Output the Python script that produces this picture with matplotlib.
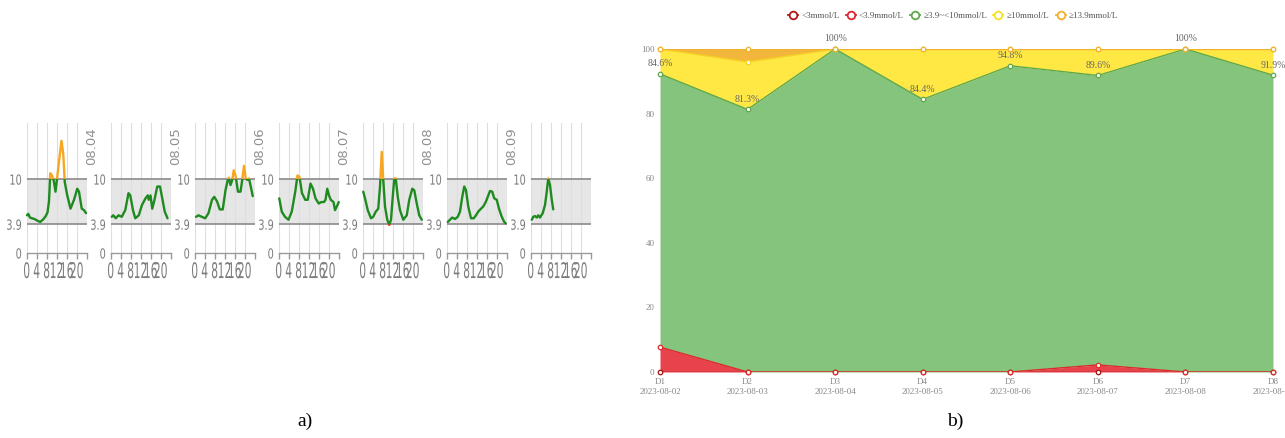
import numpy as np
import matplotlib
matplotlib.use('Agg')
import matplotlib.pyplot as plt
from matplotlib.patches import Rectangle
from matplotlib.lines import Line2D
from matplotlib.patheffects import AbstractPathEffect
from matplotlib.transforms import Affine2D

# ---------------- data: a) daily glucose curves (hour, mmol/L) ----------------
day_labels = ['08.03', '08.04', '08.05', '08.06', '08.07', '08.08', '08.09']

d1_h = [0, 0.5, 1.2, 2, 3, 4, 5.3, 6.6, 7.5, 8.2, 8.8, 9.3, 10, 10.7, 11.4, 12, 12.7, 13.8, 14.5, 15.1, 16.1, 17.4, 18.8, 20.1, 20.8, 21.9, 22.8, 23.6]
d1_v = [5.1, 5.3, 4.8, 4.7, 4.6, 4.4, 4.2, 4.6, 5.0, 5.5, 7.0, 10.8, 10.5, 9.8, 8.3, 10.0, 12.1, 15.2, 13.4, 9.6, 7.8, 6.0, 7.2, 8.7, 8.3, 6.0, 5.8, 5.4]

d2_h = [0.3, 0.9, 1.9, 3.0, 4.3, 5.7, 7.0, 7.7, 8.8, 9.7, 11.1, 12.4, 13.8, 14.7, 15.1, 15.8, 16.5, 17.4, 18.5, 19.6, 20.5, 21.5, 22.6]
d2_v = [4.9, 5.1, 4.7, 5.1, 4.9, 5.8, 8.1, 7.8, 5.8, 4.7, 5.1, 6.5, 7.4, 7.8, 7.2, 7.8, 6.0, 7.2, 9.0, 9.0, 7.4, 5.6, 4.7]

d3_h = [0.4, 1.4, 2.7, 4.1, 5.4, 6.8, 7.7, 8.8, 9.9, 11.1, 12.2, 13.1, 13.5, 14.2, 14.9, 15.5, 16.2, 17.2, 18.2, 18.9, 19.6, 20.3, 20.9, 21.6, 22.3, 23.1]
d3_v = [4.9, 5.1, 4.9, 4.7, 5.4, 7.2, 7.6, 7.0, 5.9, 5.9, 8.5, 9.9, 10.2, 9.2, 9.9, 11.2, 10.5, 8.3, 8.3, 9.9, 11.8, 10.1, 9.9, 10.1, 9.0, 7.7]

d4_h = [0.1, 1.1, 2.4, 3.8, 5.1, 6.5, 7.4, 8.2, 9.2, 10.5, 11.5, 12.6, 13.6, 14.6, 15.9, 16.9, 18.0, 18.6, 19.3, 20.0, 20.7, 21.8, 22.4, 23.4, 23.9]
d4_v = [7.4, 5.6, 4.9, 4.5, 5.6, 8.3, 10.5, 10.3, 8.1, 7.2, 7.2, 9.4, 8.7, 7.4, 6.7, 6.9, 6.9, 7.2, 8.7, 7.8, 7.2, 6.9, 5.8, 6.5, 6.9]

d5_h = [0.1, 0.8, 1.9, 3.2, 4.1, 5.1, 6.1, 6.8, 7.5, 8.1, 8.8, 9.7, 10.5, 11.2, 11.9, 12.5, 13.1, 13.9, 14.8, 16.1, 17.5, 18.5, 19.7, 20.5, 21.5, 22.5, 23.5]
d5_v = [8.3, 7.4, 5.8, 4.7, 4.9, 5.6, 6.0, 9.0, 13.7, 9.9, 6.3, 4.5, 3.8, 4.5, 7.6, 10.1, 10.1, 7.6, 5.8, 4.5, 5.1, 7.2, 8.7, 8.5, 6.7, 5.1, 4.5]

d6_h = [0.3, 1.2, 2.1, 3.2, 4.3, 5.2, 6.1, 6.9, 7.6, 8.5, 9.6, 10.7, 11.6, 12.5, 13.6, 14.5, 15.5, 16.3, 17.2, 18.1, 18.9, 19.9, 20.8, 21.9, 22.9, 23.5]
d6_v = [4.2, 4.5, 4.8, 4.6, 4.9, 5.6, 7.6, 9.0, 8.5, 6.3, 4.7, 4.7, 5.1, 5.6, 6.0, 6.3, 6.9, 7.6, 8.4, 8.3, 7.4, 7.2, 6.0, 4.9, 4.2, 4.0]

d7_h = [0.3, 0.9, 1.6, 2.3, 2.9, 3.6, 4.7, 5.6, 6.3, 6.9, 7.6, 8.3, 8.9]
d7_v = [4.5, 4.9, 5.0, 4.8, 5.1, 4.8, 5.4, 6.5, 8.3, 10.1, 9.2, 7.2, 5.9]

hours_x_ticks = [0, 4, 8, 12, 16, 20, 24]
hours_x_labels = ['0', '4', '8', '12', '16', '20', '']
y_ticks = [0, 3.9, 10]
y_labels = ['0', '3.9', '10']

# ---------------- data: b) time-in-range stacked percentages ----------------
days = ['D1', 'D2', 'D3', 'D4', 'D5', 'D6', 'D7', 'D8']
dates = ['2023-08-02', '2023-08-03', '2023-08-04', '2023-08-05',
         '2023-08-06', '2023-08-07', '2023-08-08', '2023-08-09']
pct_lt3 = [0, 0, 0, 0, 0, 0, 0, 0]
pct_lt39 = [7.7, 0, 0, 0, 0, 2.2, 0, 0]
pct_in = [84.6, 81.3, 100, 84.4, 94.8, 89.6, 100, 91.9]
pct_ge10 = [7.7, 14.7, 0, 15.6, 5.2, 8.2, 0, 8.1]
pct_ge139 = [0, 4.0, 0, 0, 0, 0, 0, 0]
in_range_labels = ['84.6%', '81.3%', '100%', '84.4%', '94.8%', '89.6%', '100%', '91.9%']
series_names = ['<3mmol/L', '<3.9mmol/L', '≥3.9~<10mmol/L', '≥10mmol/L', '≥13.9mmol/L']


class HScale(AbstractPathEffect):
    """Draw text condensed horizontally (narrow look of the original)."""

    def __init__(self, sx, anchor='center'):
        super().__init__()
        self.sx = sx
        self.anchor = anchor

    def draw_path(self, renderer, gc, tpath, affine, rgbFace=None):
        v = tpath.vertices
        if len(v):
            xmin, xmax = v[:, 0].min(), v[:, 0].max()
        else:
            xmin = xmax = 0.0
        cx = {'center': (xmin + xmax) / 2, 'right': xmax, 'left': xmin}[self.anchor]
        t = Affine2D().translate(-cx, 0).scale(self.sx, 1).translate(cx, 0) + affine
        renderer.draw_path(gc, tpath, t, rgbFace)


# ---------------- figure ----------------
W, H = 1285, 438
fig = plt.figure(figsize=(W / 100, H / 100), dpi=100)

GREEN = '#1f8a1f'
ORANGE = '#f5a623'
RED = '#e0302a'
TICK_C = '#7c7c7c'

curves = [(d1_h, d1_v), (d2_h, d2_v), (d3_h, d3_v), (d4_h, d4_v),
          (d5_h, d5_v), (d6_h, d6_v), (d7_h, d7_v)]

for k, (hh, vv) in enumerate(curves):
    x0 = 27 + 84 * k
    ax = fig.add_axes([x0 / W, 1 - 253 / H, 60 / W, 130 / H])
    ax.set_xlim(0, 24)
    ax.set_ylim(0, 17.6)
    ax.axhspan(3.9, 10, color='#e6e6e6', zorder=0, lw=0)
    for gx in hours_x_ticks:
        ax.axvline(gx, color='#dedede', lw=0.8, zorder=0.5)
    ax.axhline(3.9, color='#8a8a8a', lw=1.2, zorder=1)
    ax.axhline(10, color='#8a8a8a', lw=1.2, zorder=1)
    for lo, hi, c in [(-5, 3.9, RED), (3.9, 10, GREEN), (10, 40, ORANGE)]:
        ln, = ax.plot(hh, vv, color=c, lw=1.7, zorder=3,
                      solid_capstyle='round', solid_joinstyle='round')
        ln.set_clip_path(Rectangle((-5, lo), 40, hi - lo, transform=ax.transData))
    for s in ['top', 'right', 'left']:
        ax.spines[s].set_visible(False)
    ax.spines['bottom'].set_color('#9a9a9a')
    ax.spines['bottom'].set_linewidth(1.0)
    ax.set_xticks(hours_x_ticks)
    ax.set_xticklabels(hours_x_labels)
    ax.set_yticks(y_ticks)
    ax.set_yticklabels(y_labels)
    ax.tick_params(axis='x', direction='out', length=4, width=1, color='#9a9a9a',
                   pad=2.5, labelsize=15.5, labelcolor=TICK_C)
    ax.tick_params(axis='y', length=0, pad=3.6, labelsize=10, labelcolor=TICK_C)
    for lab in ax.get_xticklabels():
        lab.set_path_effects([HScale(0.5, 'center')])
    for lab in ax.get_yticklabels():
        lab.set_path_effects([HScale(0.7, 'right')])
    if k > 0:
        ax.text(-0.33, 0.97, day_labels[k], transform=ax.transAxes, rotation=90,
                ha='center', va='top', fontsize=9.5, color='#909090')

fig.text(305 / W, 1 - 421 / H, 'a)', ha='center', va='center',
         fontsize=14, family=['Liberation Serif', 'DejaVu Serif'])
fig.text(955 / W, 1 - 421 / H, 'b)', ha='center', va='center',
         fontsize=14, family=['Liberation Serif', 'DejaVu Serif'])

# ---------------- b) stacked area ----------------
serif = ['Liberation Serif', 'DejaVu Serif']
axb = fig.add_axes([660 / W, 1 - 372 / H, 613 / W, 323 / H])
x = np.arange(len(days))
layers = [np.array(pct_lt3), np.array(pct_lt39), np.array(pct_in),
          np.array(pct_ge10), np.array(pct_ge139)]
fills = ['#b01818', '#e8434c', '#85c47c', '#ffe844', '#f2b63c']
lines = ['#a01010', '#dd2a2a', '#5fa84d', '#f7d21e', '#f0b030']
cum = np.zeros(len(days))
tops = []
for lay, fc in zip(layers, fills):
    top = cum + lay
    axb.fill_between(x, cum, top, color=fc, lw=0, zorder=1)
    tops.append(top.copy())
    cum = top
for i, (top, lc) in enumerate(zip(tops, lines)):
    axb.plot(x, top, color=lc, lw=1.0, zorder=3 + i * 0.1)
for i, (top, lc) in enumerate(zip(tops, lines)):
    axb.plot(x, top, ls='none', marker='o', ms=3.2, mfc='white', mec=lc,
             mew=0.9, zorder=4 + i * 0.1, clip_on=False)
for xi, yi, t in zip(x, tops[2], in_range_labels):
    axb.annotate(t, (xi, yi), xytext=(0, 4), textcoords='offset points',
                 ha='center', va='bottom', fontsize=7, color='#666666',
                 family=serif, annotation_clip=False)
axb.set_xlim(0, 7)
axb.set_ylim(0, 100)
axb.set_yticks([0, 20, 40, 60, 80, 100])
axb.set_xticks(x)
axb.set_xticklabels([f'{d}\n{dt}' for d, dt in zip(days, dates)], linespacing=1.4)
axb.tick_params(length=0, labelsize=6.5, labelcolor='#888888', pad=4)
for lab in axb.get_xticklabels() + axb.get_yticklabels():
    lab.set_family(serif)
for s in axb.spines.values():
    s.set_visible(False)

handles = [Line2D([0], [0], color=lc, lw=1.3, marker='o', ms=5.5, mfc='white',
                  mec=lc, mew=1.3) for lc in ['#b01818', '#e0252e', '#5fa84d', '#f7e21e', '#f0b030']]
leg = fig.legend(handles, series_names, loc='center', bbox_to_anchor=(953 / W, 1 - 16 / H),
                 ncol=5, frameon=False, handlelength=1.1, handletextpad=0.35,
                 columnspacing=0.7, prop={'family': serif, 'size': 6.5})
for t in leg.get_texts():
    t.set_color('#555555')

fig.savefig('out.png', dpi=100)
